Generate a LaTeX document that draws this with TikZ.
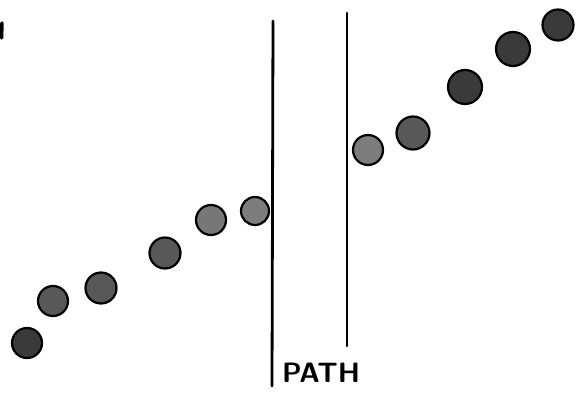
\documentclass[tikz,border=0pt]{standalone}
\usepackage{tikz}
\usetikzlibrary{positioning,calc}
\definecolor{dotdark}{RGB}{58,58,58}
\definecolor{dotmid}{RGB}{88,88,88}
\definecolor{dotlight}{RGB}{125,125,125}

\begin{document}
\begin{tikzpicture}[x=1pt,y=-1pt,
  dot/.style={draw=black,circle,line width=2.2pt,inner sep=0pt,minimum size=30pt,fill=dotmid},
  wall/.style={draw=black,line width=2.8pt,line cap=round},
  label/.style={font=\sffamily\bfseries\fontsize{28}{30}\selectfont,inner sep=0pt}]
  \useasboundingbox (0,0) rectangle (576,395);
  % dots on the left
  \node[dot,fill=dotdark] (d1) at (27,343) {};
  \node[dot] (d2) at (53,301) {};
  \node[dot,minimum size=31pt] (d3) at (101,288) {};
  \node[dot,minimum size=31pt] (d4) at (165,253) {};
  \node[dot,fill=dotlight!85!dotmid] (d5) at (211,220) {};
  \node[dot,fill=dotlight,minimum size=28pt] (d6) at (255,211) {};
  % dots on the right
  \node[dot,fill=dotlight] (d7) at (368,150) {};
  \node[dot,minimum size=33pt] (d8) at (413,133) {};
  \node[dot,fill=dotdark,minimum size=34pt] (d9) at (465,87) {};
  \node[dot,fill=dotdark,minimum size=34pt] (d10) at (513,49) {};
  \node[dot,fill=dotdark,minimum size=31pt] (d11) at (558,25) {};
  % the two lines
  \coordinate (la) at (273,21);
  \coordinate (lb) at (272,386);
  \coordinate (ra) at (347,13);
  \coordinate (rb) at (347,346);
  \draw[wall] (la) -- (lb);
  \draw[wall] (ra) -- (rb);
  \node[label,anchor=west] (path) at (282,373) {PATH};
  % mark at the edge
  \coordinate (ma) at (2,23);
  \coordinate (mb) at (1.5,38);
  \draw[wall,line width=3.5pt] (ma) -- (mb);
\end{tikzpicture}
\end{document}
